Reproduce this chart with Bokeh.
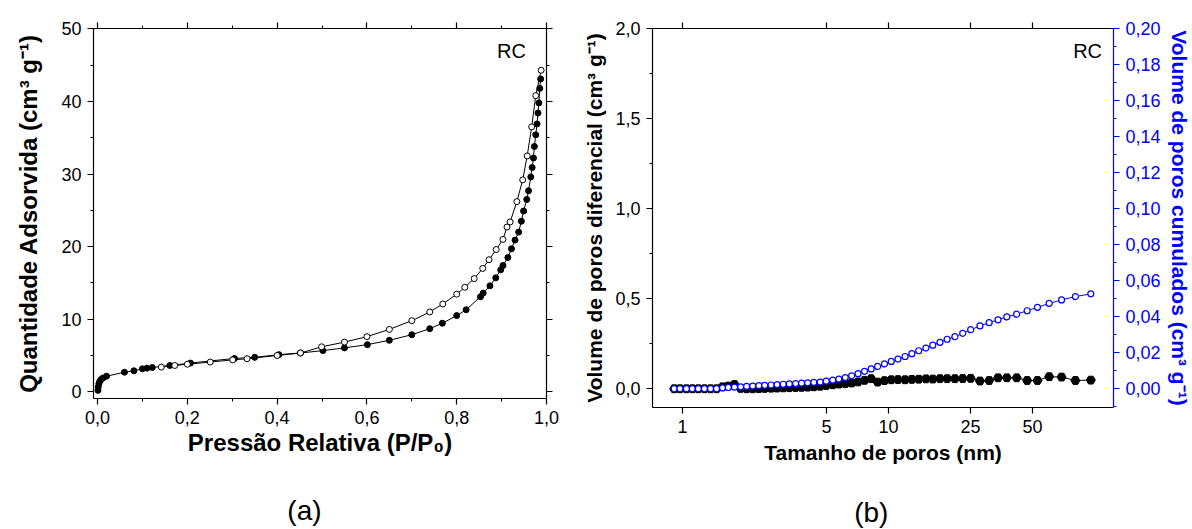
from bokeh.plotting import figure
from bokeh.layouts import row
from bokeh.models import (Range1d, LinearAxis, LogAxis, SingleIntervalTicker, FixedTicker,
                          CustomJSTickFormatter, Label, CustomLabelingPolicy)
from bokeh.embed import file_html
from bokeh.resources import INLINE

FONT = "Liberation Sans"
NBSP = "\u00a0"

# ---------------- data: panel (a) isotherm ----------------
ads_p = [0.001, 0.0015, 0.003, 0.005, 0.008, 0.012, 0.02, 0.06, 0.081, 0.10, 0.11, 0.122,
         0.161, 0.207, 0.305, 0.35, 0.404, 0.452, 0.502, 0.55, 0.601, 0.65, 0.70, 0.74,
         0.768, 0.80, 0.821, 0.853, 0.859, 0.874, 0.887, 0.898, 0.903, 0.914, 0.922, 0.930,
         0.938, 0.944, 0.949, 0.956, 0.960, 0.965, 0.968, 0.971, 0.973, 0.976, 0.979, 0.981,
         0.983, 0.985, 0.987]
ads_v = [0.2, 0.65, 1.1, 1.45, 1.7, 1.9, 2.15, 2.7, 2.9, 3.17, 3.26, 3.35,
         3.63, 3.96, 4.6, 4.75, 5.12, 5.35, 5.68, 6.05, 6.5, 7.1, 7.87, 8.7,
         9.45, 10.5, 11.3, 13.1, 13.6, 14.6, 15.7, 16.8, 17.4, 18.5, 19.7, 20.9,
         22.0, 23.5, 24.9, 26.5, 27.7, 29.6, 30.9, 32.2, 33.8, 35.4, 36.9, 38.4,
         39.8, 41.8, 43.1]
des_p = [0.988, 0.976, 0.967, 0.957, 0.947, 0.934, 0.919, 0.912, 0.903, 0.888, 0.872, 0.858,
         0.839, 0.818, 0.80, 0.769, 0.740, 0.700, 0.650, 0.600, 0.55, 0.499, 0.452, 0.40,
         0.333, 0.301, 0.251, 0.20, 0.172, 0.142]
des_v = [44.3, 40.8, 36.5, 32.5, 29.2, 26.2, 23.4, 22.7, 21.0, 19.6, 18.2, 17.0,
         15.6, 14.4, 13.45, 12.1, 11.0, 9.8, 8.6, 7.6, 6.85, 6.2, 5.35, 5.0,
         4.56, 4.4, 4.1, 3.8, 3.63, 3.4]

# ---------------- data: panel (b) pore size distribution ----------------
pore_d = [0.911, 0.972, 1.045, 1.116, 1.193, 1.278, 1.368, 1.463, 1.565, 1.668,
          1.789, 1.916, 2.049, 2.193, 2.348, 2.508, 2.692, 2.879, 3.083, 3.301,
          3.540, 3.786, 4.050, 4.341, 4.663, 4.987, 5.362, 5.741, 6.169, 6.626,
          7.117, 7.655, 8.240, 8.863, 9.563, 10.32, 11.12, 12.04, 12.99, 14.03,
          15.20, 16.42, 17.79, 19.27, 21.02, 22.94, 25.08, 27.81, 30.83, 34.05,
          37.57, 41.93, 47.16, 52.90, 60.31, 69.27, 80.86, 96.05]
dv = [0.0, 0.0, 0.0, 0.0, 0.0, 0.0, 0.0, 0.0, 0.011, 0.015,
      0.024, 0.002, 0.0, 0.0, 0.001, 0.002, 0.003, 0.004, 0.005, 0.006,
      0.007, 0.008, 0.009, 0.011, 0.014, 0.018, 0.022, 0.026, 0.029, 0.032,
      0.038, 0.047, 0.056, 0.037, 0.045, 0.050, 0.051, 0.050, 0.052, 0.053,
      0.055, 0.054, 0.056, 0.056, 0.056, 0.057, 0.058, 0.043, 0.046, 0.061,
      0.061, 0.061, 0.046, 0.046, 0.067, 0.065, 0.046, 0.048]
cum = [0.0, 0.0, 0.0, 0.0, 0.0, 0.0, 0.0, 0.0, 0.0005, 0.0007,
       0.0009, 0.0011, 0.0013, 0.0015, 0.0017, 0.0019, 0.0021, 0.0023, 0.0025, 0.0027,
       0.0029, 0.0031, 0.0033, 0.0035, 0.0037, 0.0042, 0.0048, 0.0054, 0.0062, 0.0072,
       0.0084, 0.0097, 0.0110, 0.0124, 0.0138, 0.0152, 0.0165, 0.0179, 0.0195, 0.0211,
       0.0226, 0.0242, 0.0258, 0.0275, 0.0289, 0.0308, 0.0328, 0.0349, 0.0367, 0.0383,
       0.0399, 0.0414, 0.0433, 0.0452, 0.0474, 0.0493, 0.0512, 0.0527]

x_ticks_b = [1, 5, 10, 25, 50]


def style_axis(ax, label_size="18px", title_size="24px", color="black"):
    ax.axis_line_color = color
    ax.axis_line_width = 1.2
    ax.major_tick_line_color = color
    ax.minor_tick_line_color = color
    ax.major_tick_line_width = 1.2
    ax.minor_tick_line_width = 1.0
    ax.major_tick_out = 6
    ax.major_tick_in = 0
    ax.minor_tick_out = 3
    ax.minor_tick_in = 0
    ax.major_label_text_font = FONT
    ax.major_label_text_font_size = label_size
    ax.major_label_text_color = color
    ax.major_label_standoff = 6
    ax.axis_label_text_font = FONT
    ax.axis_label_text_font_size = title_size
    ax.axis_label_text_font_style = "bold"
    ax.axis_label_text_color = color


def no_labels(ax):
    ax.major_label_policy = CustomLabelingPolicy(code="return []")
    ax.major_label_text_font_size = "1px"
    ax.major_label_standoff = 0


def mirror(ax):
    # ticks only, no tick labels
    no_labels(ax)
    ax.axis_label = None


def caption(ax, text, standoff):
    # an invisible axis that only carries the panel caption "(a)" / "(b)"
    no_labels(ax)
    ax.axis_line_color = None
    ax.major_tick_line_color = None
    ax.minor_tick_line_color = None
    ax.major_tick_out = 0
    ax.major_tick_in = 0
    ax.minor_tick_out = 0
    ax.minor_tick_in = 0
    ax.axis_label = text
    ax.axis_label_standoff = standoff
    ax.axis_label_text_font = FONT
    ax.axis_label_text_font_size = "28px"
    ax.axis_label_text_font_style = "normal"
    ax.axis_label_text_color = "black"


comma1 = "return tick.toFixed(1).replace('.', ',')"
comma2 = "return tick.toFixed(2).replace('.', ',')"

# ---------------- panel (a) ----------------
p1 = figure(frame_width=453, frame_height=370,
            min_border_left=93, min_border_right=22, min_border_top=26, min_border_bottom=133,
            x_range=Range1d(-0.009, 1.0), y_range=Range1d(-0.92, 50.05),
            x_axis_location=None, y_axis_location=None,
            output_backend="svg", toolbar_location=None)
p1.grid.grid_line_color = None
p1.outline_line_color = None

xb = LinearAxis(ticker=SingleIntervalTicker(interval=0.2, num_minor_ticks=2),
                formatter=CustomJSTickFormatter(code=comma1),
                axis_label="Pressão Relativa (P/P₀)")
style_axis(xb)
xb.axis_label_standoff = 2
p1.add_layout(xb, "below")

cap_a = LinearAxis(ticker=SingleIntervalTicker(interval=0.2))
caption(cap_a, "(a)" + NBSP * 4, 32)
p1.add_layout(cap_a, "below")

yl = LinearAxis(ticker=SingleIntervalTicker(interval=10, num_minor_ticks=2),
                axis_label="Quantidade Adsorvida (cm³ g⁻¹)")
style_axis(yl)
yl.axis_label_standoff = 16
p1.add_layout(yl, "left")

xt = LinearAxis(ticker=SingleIntervalTicker(interval=0.2, num_minor_ticks=2))
style_axis(xt)
mirror(xt)
p1.add_layout(xt, "above")

yr = LinearAxis(ticker=SingleIntervalTicker(interval=10, num_minor_ticks=2))
style_axis(yr)
mirror(yr)
p1.add_layout(yr, "right")

p1.line(ads_p, ads_v, line_color="black", line_width=1)
p1.line(des_p, des_v, line_color="black", line_width=1)
p1.scatter(ads_p, ads_v, marker="circle", size=6, fill_color="black", line_color="black")
p1.scatter(des_p, des_v, marker="circle", size=6, fill_color="white", line_color="black",
           line_width=1)

p1.add_layout(Label(x=0.922, y=46.95, text="RC", text_align="center", text_baseline="middle",
                    text_font=FONT, text_font_size="20px", text_color="black"))

# ---------------- panel (b) ----------------
p2 = figure(x_axis_type="log", frame_width=461, frame_height=379,
            min_border_left=84, min_border_right=76, min_border_top=28, min_border_bottom=122,
            x_range=Range1d(0.715, 123.8), y_range=Range1d(-0.104, 2.0),
            x_axis_location=None, y_axis_location=None,
            output_backend="svg", toolbar_location=None)
p2.grid.grid_line_color = None
p2.outline_line_color = None
p2.extra_y_ranges = {"cum": Range1d(-0.0104, 0.20)}

xb2 = LogAxis(ticker=FixedTicker(ticks=x_ticks_b, minor_ticks=[]),
              formatter=CustomJSTickFormatter(code="return tick.toString()"),
              axis_label="Tamanho de poros (nm)")
style_axis(xb2, title_size="21px")
xb2.axis_label_standoff = 5
p2.add_layout(xb2, "below")

cap_b = LogAxis(ticker=FixedTicker(ticks=x_ticks_b, minor_ticks=[]))
caption(cap_b, "(b)" + NBSP * 3, 26)
p2.add_layout(cap_b, "below")

xt2 = LogAxis(ticker=FixedTicker(ticks=x_ticks_b, minor_ticks=[]))
style_axis(xt2)
mirror(xt2)
p2.add_layout(xt2, "above")

yl2 = LinearAxis(ticker=SingleIntervalTicker(interval=0.5, num_minor_ticks=2),
                 formatter=CustomJSTickFormatter(code=comma1),
                 axis_label="Volume de poros diferencial (cm³ g⁻¹)")
style_axis(yl2, title_size="21px")
yl2.axis_label_standoff = 6
p2.add_layout(yl2, "left")

yr2 = LinearAxis(y_range_name="cum",
                 ticker=SingleIntervalTicker(interval=0.02, num_minor_ticks=2),
                 formatter=CustomJSTickFormatter(code=comma2),
                 axis_label="Volume de poros cumulados (cm³ g⁻¹)")
style_axis(yr2, title_size="21px", color="blue")
yr2.axis_label_standoff = 4
p2.add_layout(yr2, "right")

p2.line(pore_d, dv, line_color="black", line_width=1)
p2.scatter(pore_d, dv, marker="hex", size=9, fill_color="black", line_color="black")
p2.line(pore_d, cum, y_range_name="cum", line_color="blue", line_width=1)
p2.scatter(pore_d, cum, y_range_name="cum", marker="circle", size=6, fill_color="white",
           line_color="blue", line_width=1.2)

p2.add_layout(Label(x=92.7, y=1.876, text="RC", text_align="center", text_baseline="middle",
                    text_font=FONT, text_font_size="20px", text_color="black"))

layout = row(p1, p2)
open("out.html", "w").write(file_html(layout, INLINE))
